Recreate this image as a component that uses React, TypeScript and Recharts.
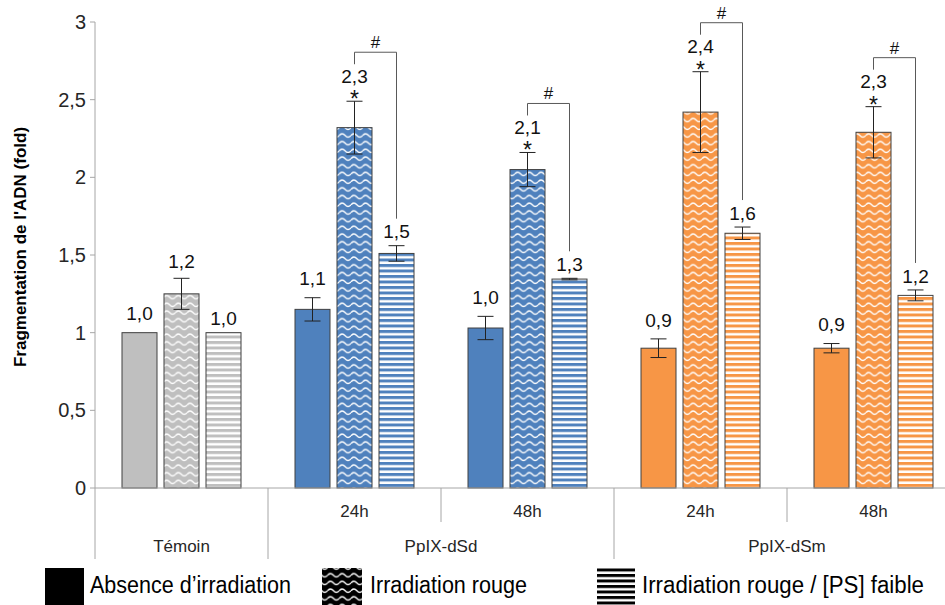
import { BarChart, Bar, XAxis, YAxis, ErrorBar } from 'recharts';

// categories (one band per condition)
const categories = ['temoin', 'dSd-24h', 'dSd-48h', 'dSm-24h', 'dSm-48h'];
const timeLabels = ['', '24h', '48h', '24h', '48h'];
const colorKeys = ['gray', 'blue', 'blue', 'orange', 'orange'];

// group labels on the second row of the axis
const groupLabels = ['Témoin', 'PpIX-dSd', 'PpIX-dSm'];
const groupStarts = [0, 1, 3];
const groupSpans = [1, 2, 2];

// series values
const baseValues = [1.0, 1.15, 1.03, 0.9, 0.9];
const baseErrors = [0, 0.075, 0.075, 0.06, 0.03];
const baseLabels = ['1,0', '1,1', '1,0', '0,9', '0,9'];

const redValues = [1.25, 2.32, 2.05, 2.42, 2.29];
const redErrors = [0.1, 0.17, 0.11, 0.26, 0.165];
const redLabels = ['1,2', '2,3', '2,1', '2,4', '2,3'];
const redStars = [false, true, true, true, true];

const lowValues = [1.0, 1.51, 1.345, 1.64, 1.24];
const lowErrors = [0, 0.05, 0.005, 0.04, 0.035];
const lowLabels = ['1,0', '1,5', '1,3', '1,6', '1,2'];
const pairSignificant = [false, true, true, true, true];

const yTicks = [0, 0.5, 1, 1.5, 2, 2.5, 3];

const FILLS: Record<string, string> = {
  gray: '#BFBFBF',
  blue: '#4F81BD',
  orange: '#F79646',
};

const BAR_SIZE = 35;
const BAR_GAP = 7;
const FONT = '"Liberation Sans", Arial, sans-serif';
const AXIS_GRAY = '#A6A6A6';
const TEXT = '#262626';

const data = categories.map((id, i) => ({
  id,
  color: colorKeys[i],
  base: baseValues[i],
  baseErr: baseErrors[i],
  red: redValues[i],
  redErr: redErrors[i],
  low: lowValues[i],
  lowErr: lowErrors[i],
}));

type Kind = 'base' | 'red' | 'low';

function WavePattern({ id, color }: { id: string; color: string }) {
  return (
    <pattern id={id} patternUnits="userSpaceOnUse" width={11.7} height={7.7}>
      <rect width={11.7} height={7.7} fill={color} />
      <path
        d="M0 4.6 Q2.925 1.2 5.85 4.6 T11.7 4.6"
        stroke="#fff"
        strokeWidth={1.3}
        fill="none"
      />
    </pattern>
  );
}

function LinePattern({ id, color }: { id: string; color: string }) {
  return (
    <pattern id={id} patternUnits="userSpaceOnUse" width={8} height={5.5}>
      <rect width={8} height={5.5} fill="#fff" />
      <rect width={8} height={3} fill={color} />
    </pattern>
  );
}

function Patterns() {
  return (
    <defs>
      {Object.keys(FILLS).map((k) => (
        <g key={k}>
          <WavePattern id={`wave-${k}`} color={FILLS[k]} />
          <LinePattern id={`lines-${k}`} color={FILLS[k]} />
        </g>
      ))}
    </defs>
  );
}

// bar + its value label (+ star / bracket) drawn from the bar's own geometry
const makeShape = (kind: Kind) => (props: any) => {
  const { x, y, width, height, payload } = props;
  if (!payload || !height) return <g />;
  const i = categories.indexOf(payload.id);
  const v = payload[kind];
  const unit = height / v;
  const base = y + height;
  const toY = (val: number) => base - val * unit;
  const cx = x + width / 2;
  const errTop = toY(v + payload[`${kind}Err`]);

  const fill =
    kind === 'base'
      ? FILLS[payload.color]
      : `url(#${kind === 'red' ? 'wave' : 'lines'}-${payload.color})`;

  const textStyle = { fontFamily: FONT, fontSize: 19, fill: '#111' };
  let extra = null;

  if (kind === 'base') {
    extra = (
      <text x={cx} y={errTop - 19} dy="0.35em" textAnchor="middle" style={textStyle}>
        {baseLabels[i]}
      </text>
    );
  } else if (kind === 'red') {
    extra = redStars[i] ? (
      <g>
        <text x={cx} y={errTop - 25} dy="0.35em" textAnchor="middle" style={textStyle}>
          {redLabels[i]}
        </text>
        <text x={cx} y={errTop + 6} textAnchor="middle" style={{ ...textStyle, fontSize: 23 }}>
          *
        </text>
      </g>
    ) : (
      <text x={cx} y={errTop - 17} dy="0.35em" textAnchor="middle" style={textStyle}>
        {redLabels[i]}
      </text>
    );
  } else {
    const labelY = errTop - 14;
    let bracket = null;
    if (pairSignificant[i]) {
      const redX = cx - (width + BAR_GAP);
      const redTop = toY(payload.red + payload.redErr);
      const leftBottom = redTop - 37;
      const topY = leftBottom - 12;
      bracket = (
        <g>
          <path
            d={`M${redX},${leftBottom} V${topY} H${cx} V${labelY - 13}`}
            stroke="#595959"
            strokeWidth={1}
            fill="none"
          />
          <text x={(redX + cx) / 2} y={topY - 10} dy="0.35em" textAnchor="middle" style={{ ...textStyle, fontSize: 17 }}>
            #
          </text>
        </g>
      );
    }
    extra = (
      <g>
        {bracket}
        <text x={cx} y={labelY} dy="0.35em" textAnchor="middle" style={textStyle}>
          {lowLabels[i]}
        </text>
      </g>
    );
  }

  return (
    <g>
      <rect x={x} y={y} width={width} height={height} fill={fill} stroke="#404040" strokeWidth={1} />
      {extra}
    </g>
  );
};

function CategoryTick(props: any) {
  const { x, y, payload } = props;
  const i = categories.indexOf(payload.value);
  const band = payload.offset ? payload.offset * 2 : 173;
  const left = x - band / 2;
  const g = groupStarts.indexOf(i);
  const style = { fontFamily: FONT, fontSize: 17, fill: TEXT };
  return (
    <g>
      <line x1={left} x2={left} y1={y} y2={y + (g >= 0 ? 71 : 34)} stroke={AXIS_GRAY} />
      {timeLabels[i] && (
        <text x={x} y={y + 23} dy="0.35em" textAnchor="middle" style={style}>
          {timeLabels[i]}
        </text>
      )}
      {g >= 0 && (
        <text x={left + (groupSpans[g] * band) / 2} y={y + 58} dy="0.35em" textAnchor="middle" style={style}>
          {groupLabels[g]}
        </text>
      )}
    </g>
  );
}

function AxisTitle(props: any) {
  const { viewBox } = props;
  if (!viewBox) return null;
  const cx = viewBox.x + 20;
  const cy = viewBox.y + viewBox.height / 2 - 8;
  return (
    <text
      x={cx}
      y={cy}
      dy="0.35em"
      transform={`rotate(-90 ${cx} ${cy})`}
      textAnchor="middle"
      style={{ fontFamily: FONT, fontWeight: 700, fontSize: 17, fill: '#000' }}
    >
      Fragmentation de l'ADN (fold)
    </text>
  );
}

function ChartLegend() {
  const style = { fontFamily: FONT, fontSize: 23, fill: '#000' };
  return (
    <svg width={945} height={42} style={{ position: 'absolute', left: 0, top: 563 }}>
      <defs>
        <WavePattern id="wave-legend" color="#000" />
        <LinePattern id="lines-legend" color="#000" />
      </defs>
      <rect x={45} y={5} width={39} height={37} fill="#000" />
      <text x={90} y={30} textLength={201} lengthAdjust="spacingAndGlyphs" style={style}>
        Absence d’irradiation
      </text>
      <rect x={322} y={5} width={40} height={37} fill="url(#wave-legend)" />
      <text x={370} y={30} textLength={157} lengthAdjust="spacingAndGlyphs" style={style}>
        Irradiation rouge
      </text>
      <rect x={597} y={5} width={38} height={37} fill="url(#lines-legend)" />
      <text x={642} y={30} textLength={282} lengthAdjust="spacingAndGlyphs" style={style}>
        Irradiation rouge / [PS] faible
      </text>
    </svg>
  );
}

export default function App() {
  return (
    <div
      style={{
        position: 'fixed',
        left: 0,
        top: 0,
        width: 945,
        height: 605,
        overflow: 'hidden',
        background: '#fff',
        fontFamily: FONT,
      }}
    >
      <BarChart
        width={960}
        height={563}
        data={data}
        margin={{ top: 22, right: 0, bottom: 0, left: 0 }}
        barSize={BAR_SIZE}
        barGap={BAR_GAP}
      >
        <Patterns />
        <XAxis
          dataKey="id"
          height={75}
          interval={0}
          tickSize={0}
          tickMargin={0}
          axisLine={{ stroke: AXIS_GRAY }}
          tick={(p: any) => <CategoryTick {...p} />}
        />
        <YAxis
          width={95}
          domain={[0, 3]}
          ticks={yTicks}
          tickSize={5}
          tickMargin={4}
          axisLine={{ stroke: AXIS_GRAY }}
          tickLine={{ stroke: AXIS_GRAY }}
          tick={{ fontSize: 20, fill: TEXT, fontFamily: FONT }}
          tickFormatter={(v: number) => String(v).replace('.', ',')}
          label={{ position: 'insideLeft', content: (p: any) => <AxisTitle {...p} /> }}
        />
        <Bar dataKey="base" shape={makeShape('base')} isAnimationActive={false}>
          <ErrorBar dataKey="baseErr" width={8} stroke="#222" strokeWidth={1} direction="y" />
        </Bar>
        <Bar dataKey="red" shape={makeShape('red')} isAnimationActive={false}>
          <ErrorBar dataKey="redErr" width={8} stroke="#222" strokeWidth={1} direction="y" />
        </Bar>
        <Bar dataKey="low" shape={makeShape('low')} isAnimationActive={false}>
          <ErrorBar dataKey="lowErr" width={8} stroke="#222" strokeWidth={1} direction="y" />
        </Bar>
      </BarChart>
      <ChartLegend />
    </div>
  );
}
